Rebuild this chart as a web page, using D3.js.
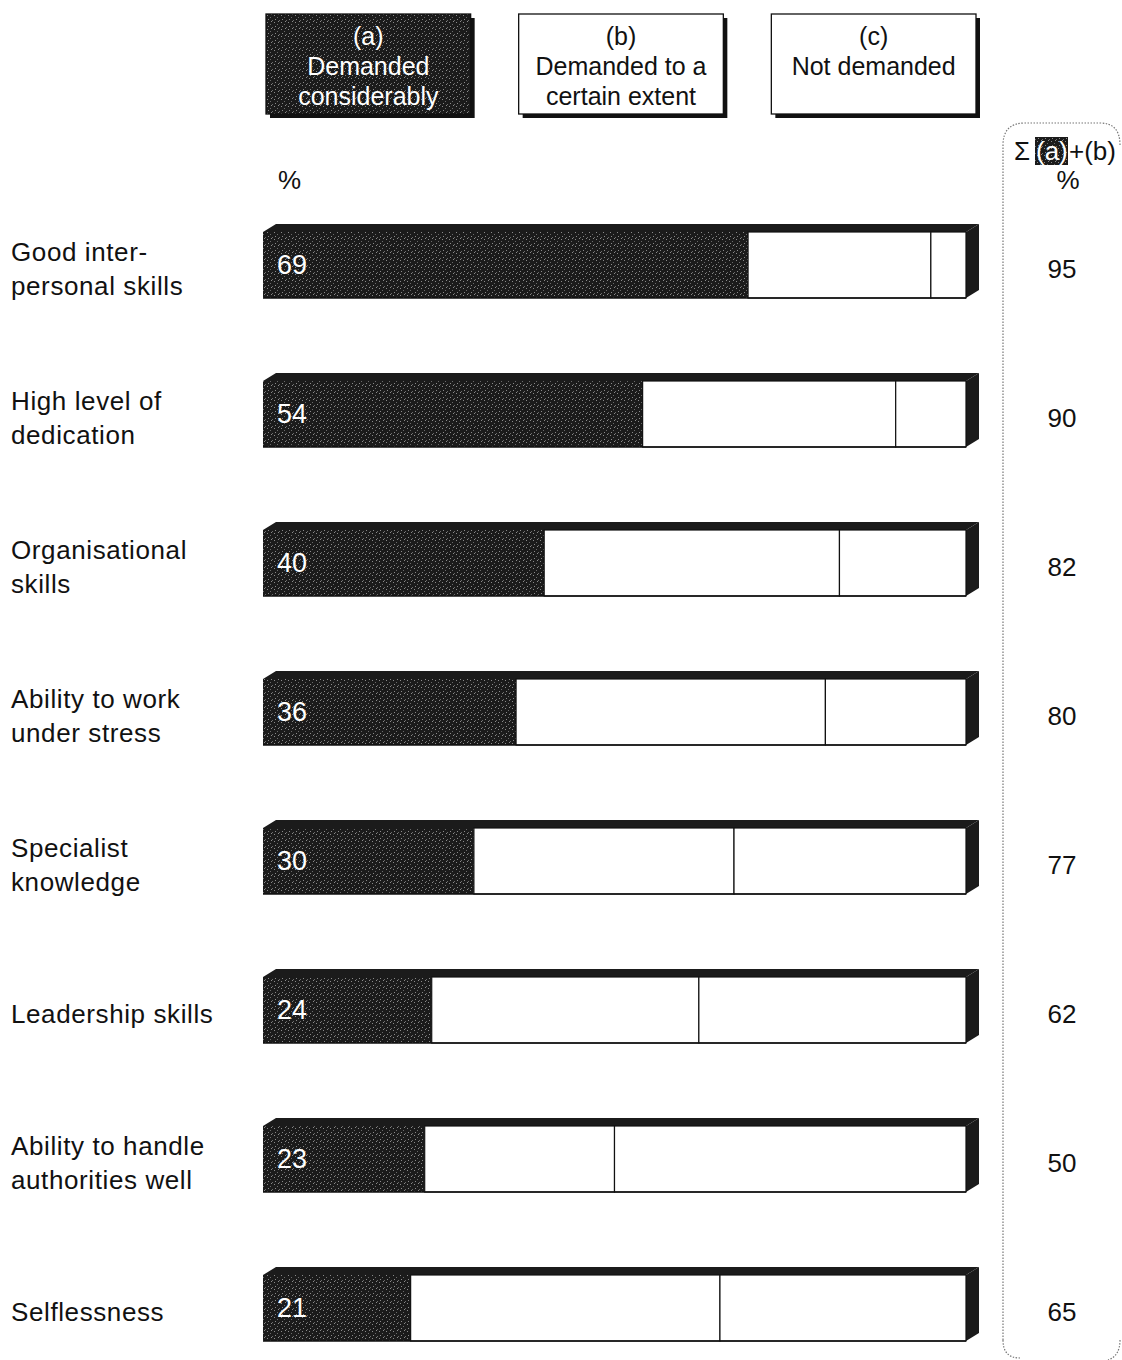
<!DOCTYPE html>
<html><head><meta charset="utf-8">
<script src="https://cdn.jsdelivr.net/npm/d3@7"></script>
<style>body{margin:0;background:#fff}svg{display:block}text{font-family:"Liberation Sans",Arial,sans-serif}</style>
</head><body>
<svg id="c" width="1122" height="1360"></svg>
<script>
// ---- data ----
const categories = [
  ["Good inter-","personal skills"],
  ["High level of","dedication"],
  ["Organisational","skills"],
  ["Ability to work","under stress"],
  ["Specialist","knowledge"],
  ["Leadership skills"],
  ["Ability to handle","authorities well"],
  ["Selflessness"]
];
const demandedConsiderably = [69, 54, 40, 36, 30, 24, 23, 21];      // (a)
const demandedCertainExtent = [26, 36, 42, 44, 37, 38, 27, 44];      // (b) as drawn
const sumLabels = [95, 90, 82, 80, 77, 62, 50, 65];                  // Σ (a)+(b) column
const legendLabels = [
  ["(a)","Demanded","considerably"],
  ["(b)","Demanded to a","certain extent"],
  ["(c)","Not demanded"]
];

// ---- drawing ----
const svg = d3.select("#c");
const dark = "#1b1b1b";
const defs = svg.append("defs");
const pat = defs.append("pattern").attr("id","speck").attr("patternUnits","userSpaceOnUse").attr("width",7).attr("height",7);
pat.append("rect").attr("width",7).attr("height",7).attr("fill",dark);
[[1,1],[4,3],[2,5],[6,6],[5,0]].forEach(([x,y],i)=>pat.append("rect").attr("x",x).attr("y",y).attr("width",1).attr("height",1).attr("fill",i%2?"#6a6a6a":"#8a8a8a"));

const x = d3.scaleLinear().domain([0,100]).range([263, 966]);
const y = d3.scaleBand().domain(d3.range(categories.length)).range([232, 1341]).paddingInner(0.557).paddingOuter(0);
const dx = 13, dy = 8;
const fs = 26;

// legend
const legX = d3.scaleBand().domain([0,1,2]).range([266, 976]).paddingInner(0.19);
legendLabels.forEach((lines,i)=>{
  const g = svg.append("g");
  const x0 = legX(i), w = legX.bandwidth(), y0 = 14, h = 100;
  g.append("rect").attr("x",x0+4).attr("y",y0+4).attr("width",w).attr("height",h).attr("fill","#111");
  g.append("rect").attr("x",x0).attr("y",y0).attr("width",w).attr("height",h)
    .attr("fill", i===0 ? "url(#speck)" : "#fff").attr("stroke","#111").attr("stroke-width",1.3);
  lines.forEach((t,j)=>{
    g.append("text").attr("x",x0+w/2).attr("y",y0+31+j*30).attr("text-anchor","middle")
      .attr("font-size",25).attr("fill", i===0 ? "#fff" : "#111").text(t);
  });
});

// % header
svg.append("text").attr("x",278).attr("y",189).attr("font-size",fs).attr("fill","#111").text("%");

// bars
categories.forEach((cat,i)=>{
  const g = svg.append("g");
  const y0 = y(i), h = y.bandwidth(), y1 = y0 + h;
  const xa0 = x(0), xa1 = x(demandedConsiderably[i]), xb1 = x(demandedConsiderably[i]+demandedCertainExtent[i]), xe = x(100);
  g.append("path").attr("d",`M${xa0},${y0} L${xa0+dx},${y0-dy} L${xe+dx},${y0-dy} L${xe},${y0} Z`).attr("fill",dark);
  g.append("path").attr("d",`M${xe},${y0} L${xe+dx},${y0-dy} L${xe+dx},${y1-dy} L${xe},${y1} Z`).attr("fill",dark);
  g.append("rect").attr("x",xa0).attr("y",y0).attr("width",xa1-xa0).attr("height",h).attr("fill","url(#speck)");
  g.append("rect").attr("x",xa1).attr("y",y0).attr("width",xb1-xa1).attr("height",h).attr("fill","#fff").attr("stroke","#111").attr("stroke-width",1.2);
  g.append("rect").attr("x",xb1).attr("y",y0).attr("width",xe-xb1).attr("height",h).attr("fill","#fff").attr("stroke","#111").attr("stroke-width",1.2);
  g.append("line").attr("x1",xa0).attr("x2",xe).attr("y1",y1).attr("y2",y1).attr("stroke","#111").attr("stroke-width",1.5);
  g.append("text").attr("x",xa0+14).attr("y",y0+h/2+9).attr("font-size",27).attr("fill","#fff").text(demandedConsiderably[i]);
  const cy = y0 + h/2 + 4;
  cat.forEach((t,j)=>{
    const off = cat.length===1 ? 0 : (j===0 ? -17 : 17);
    g.append("text").attr("x",11).attr("y",cy+off+9).attr("font-size",fs).attr("letter-spacing",0.6).attr("fill","#111").text(t);
  });
  svg.append("text").attr("x",1062).attr("y",cy+9).attr("text-anchor","middle").attr("font-size",fs).attr("fill","#111").text(sumLabels[i]);
});

// sum column frame
svg.append("path")
  .attr("d","M1003,1340 L1003,145 Q1003,123 1025,123 L1100,123 Q1120,123 1120,145 M1003,1340 Q1003,1358 1020,1358 M1120,1340 Q1120,1356 1108,1360")
  .attr("fill","none").attr("stroke","#777").attr("stroke-width",1.2).attr("stroke-dasharray","1.5,1.5");
const hg = svg.append("g");
hg.append("text").attr("x",1014).attr("y",160).attr("font-size",fs).attr("fill","#111").text("Σ");
hg.append("rect").attr("x",1035).attr("y",137).attr("width",33).attr("height",28).attr("fill","url(#speck)");
hg.append("text").attr("x",1036).attr("y",160).attr("font-size",fs).attr("fill","#fff").text("(a)");
hg.append("text").attr("x",1069).attr("y",160).attr("font-size",fs).attr("fill","#111").text("+(b)");
hg.append("text").attr("x",1068).attr("y",189).attr("text-anchor","middle").attr("font-size",fs).attr("fill","#111").text("%");
</script>
</body></html>
